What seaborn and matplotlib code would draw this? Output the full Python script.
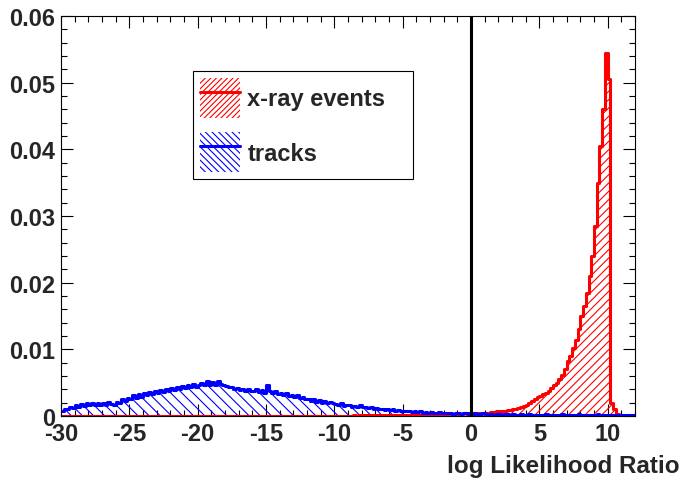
import numpy as np
import pandas as pd
import matplotlib
matplotlib.use("Agg")
import matplotlib.pyplot as plt
import seaborn as sns
from matplotlib.patches import Patch
from matplotlib.lines import Line2D
from matplotlib.legend_handler import HandlerTuple
from matplotlib.ticker import MultipleLocator, FixedLocator

# ---------------- data ----------------
x_min, x_max = -30.0, 12.0          # histogram range (0.2 wide bins)

# x-ray events: normalised counts per bin, bins from -30 to 12
xray_events = [0.0] * 105 + [
    0.0, 0.0, 0.0001, 0.0, 0.0001,                 # -9 .. -8
    0.0001, 0.0001, 0.0001, 0.0001, 0.0001,        # -8 .. -7
    0.0001, 0.0001, 0.0001, 0.0002, 0.0001,        # -7 .. -6
    0.0001, 0.0002, 0.0001, 0.0002, 0.0002,        # -6 .. -5
    0.0002, 0.0002, 0.0002, 0.0002, 0.0002,        # -5 .. -4
    0.0002, 0.0002, 0.0003, 0.0002, 0.0002,        # -4 .. -3
    0.0002, 0.0003, 0.0003, 0.0002, 0.0003,        # -3 .. -2
    0.0003, 0.0002, 0.0003, 0.0003, 0.0003,        # -2 .. -1
    0.0003, 0.0003, 0.0004, 0.0003, 0.0004,        # -1 .. 0
    0.0004, 0.0004, 0.0004, 0.0005, 0.0005,        # 0 .. 1
    0.0005, 0.0005, 0.0006, 0.0006, 0.0007,        # 1 .. 2
    0.0007, 0.0007, 0.0008, 0.0009, 0.0009,        # 2 .. 3
    0.0010, 0.0011, 0.0012, 0.0013, 0.0015,        # 3 .. 4
    0.0017, 0.0019, 0.0022, 0.0025, 0.0028,        # 4 .. 5
    0.0030, 0.0033, 0.0034, 0.0038, 0.0042,        # 5 .. 6
    0.0046, 0.0050, 0.0056, 0.0062, 0.0070,        # 6 .. 7
    0.0082, 0.0090, 0.0102, 0.0114, 0.0130,        # 7 .. 8
    0.0150, 0.0165, 0.0185, 0.0210, 0.0240,        # 8 .. 9
    0.0285, 0.0350, 0.0405, 0.0460, 0.0545,        # 9 .. 10
    0.0505, 0.0020, 0.0010, 0.0003, 0.0,           # 10 .. 11
    0.0, 0.0, 0.0, 0.0, 0.0,                       # 11 .. 12
]

# tracks: normalised counts per bin, bins from -30 to 12
tracks = [
    0.0008, 0.0011, 0.0010, 0.0013, 0.0012,   # -30
    0.0016, 0.0014, 0.0018, 0.0015, 0.0019,   # -29
    0.0016, 0.0019, 0.0017, 0.0020, 0.0016,   # -28
    0.0019, 0.0016, 0.0021, 0.0018, 0.0017,   # -27
    0.0021, 0.0019, 0.0025, 0.0022, 0.0027,   # -26
    0.0025, 0.0031, 0.0027, 0.0033, 0.0029,   # -25
    0.0034, 0.0031, 0.0036, 0.0033, 0.0038,   # -24
    0.0035, 0.0039, 0.0036, 0.0041, 0.0038,   # -23
    0.0042, 0.0039, 0.0044, 0.0040, 0.0045,   # -22
    0.0042, 0.0046, 0.0043, 0.0048, 0.0044,   # -21
    0.0047, 0.0050, 0.0046, 0.0053, 0.0047,   # -20
    0.0051, 0.0046, 0.0052, 0.0048, 0.0047,   # -19
    0.0045, 0.0043, 0.0044, 0.0041, 0.0042,   # -18
    0.0039, 0.0041, 0.0038, 0.0040, 0.0037,   # -17
    0.0038, 0.0040, 0.0036, 0.0039, 0.0035,   # -16
    0.0047, 0.0037, 0.0035, 0.0037, 0.0033,   # -15
    0.0034, 0.0031, 0.0034, 0.0030, 0.0032,   # -14
    0.0029, 0.0031, 0.0027, 0.0029, 0.0026,   # -13
    0.0026, 0.0023, 0.0025, 0.0021, 0.0024,   # -12
    0.0020, 0.0023, 0.0019, 0.0021, 0.0019,   # -11
    0.0018, 0.0016, 0.0019, 0.0015, 0.0017,   # -10
    0.0016, 0.0014, 0.0015, 0.0013, 0.0016,   # -9
    0.0013, 0.0014, 0.0012, 0.0013, 0.0011,   # -8
    0.0012, 0.0010, 0.0011, 0.0009, 0.0011,   # -7
    0.0009, 0.0010, 0.0008, 0.0009, 0.0008,   # -6
    0.0008, 0.0007, 0.0008, 0.0006, 0.0007,   # -5
    0.0006, 0.0007, 0.0005, 0.0006, 0.0005,   # -4
    0.0006, 0.0005, 0.0004, 0.0006, 0.0005,   # -3
    0.0005, 0.0004, 0.0005, 0.0003, 0.0004,   # -2
    0.0004, 0.0003, 0.0004, 0.0004, 0.0003,   # -1
    0.0003, 0.0004, 0.0003, 0.0003, 0.0004,   # 0
    0.0003, 0.0002, 0.0003, 0.0002, 0.0003,   # 1
    0.0003, 0.0002, 0.0003, 0.0003, 0.0002,   # 2
    0.0003, 0.0002, 0.0002, 0.0003, 0.0002,   # 3
    0.0002, 0.0003, 0.0002, 0.0002, 0.0002,   # 4
    0.0002, 0.0002, 0.0003, 0.0002, 0.0002,   # 5
    0.0002, 0.0002, 0.0002, 0.0003, 0.0002,   # 6
    0.0002, 0.0002, 0.0002, 0.0002, 0.0003,   # 7
    0.0002, 0.0002, 0.0002, 0.0002, 0.0002,   # 8
    0.0002, 0.0003, 0.0002, 0.0002, 0.0002,   # 9
    0.0002, 0.0002, 0.0002, 0.0001, 0.0002,   # 10
    0.0001, 0.0001, 0.0001, 0.0001, 0.0001,   # 11
]

series_labels = ["x-ray events", "tracks"]
series_colors = ["#ff0000", "#0000ff"]
x_ticks = [-30, -25, -20, -15, -10, -5, 0, 5, 10]
x_tick_labels = ["-30", "-25", "-20", "-15", "-10", "-5", "0", "5", "10"]
y_ticks = [0.0, 0.01, 0.02, 0.03, 0.04, 0.05, 0.06]
y_tick_labels = ["0", "0.01", "0.02", "0.03", "0.04", "0.05", "0.06"]
x_label = "log Likelihood Ratio"

# ---------------- style ----------------
sns.set_style("ticks")
plt.rcParams["font.family"] = ["Liberation Sans", "DejaVu Sans"]
plt.rcParams["font.weight"] = "bold"
plt.rcParams["axes.unicode_minus"] = False
plt.rcParams["hatch.linewidth"] = 0.8

n_bins = len(tracks)
edges = np.linspace(x_min, x_max, n_bins + 1)
centers = 0.5 * (edges[:-1] + edges[1:])
bin_list = [float(e) for e in edges]
df = pd.DataFrame({
    "llr": np.concatenate([centers, centers]),
    "density": xray_events + tracks,
    "sample": [series_labels[0]] * n_bins + [series_labels[1]] * n_bins,
})

fig = plt.figure(figsize=(6.84, 4.81), dpi=100)
ax = fig.add_axes([61 / 684, 1 - 417 / 481, 574 / 684, 400 / 481])

hatches = ["////", "\\\\\\"]
for name, col, hatch in zip(series_labels, series_colors, hatches):
    sub = df[df["sample"] == name]
    sns.histplot(data=sub, x="llr", weights="density", bins=bin_list,
                 element="step", fill=True, color=col, facecolor="none",
                 edgecolor=col, linewidth=0, hatch=hatch, ax=ax)
    sns.histplot(data=sub, x="llr", weights="density", bins=bin_list,
                 element="step", fill=False, color=col, linewidth=2.2, ax=ax)

ax.axvline(0, color="black", lw=2.2, zorder=5)

ax.set_xlim(x_min, x_max)
ax.set_ylim(0, 0.06)
ax.set_xlabel("")
ax.set_ylabel("")
ax.xaxis.set_major_locator(FixedLocator(x_ticks))
ax.set_xticklabels(x_tick_labels)
ax.xaxis.set_minor_locator(MultipleLocator(1))
ax.yaxis.set_major_locator(FixedLocator(y_ticks))
ax.set_yticklabels(y_tick_labels)
ax.yaxis.set_minor_locator(MultipleLocator(0.002))
ax.tick_params(which="both", direction="in", top=True, right=True,
               width=0.8, color="black")
ax.tick_params(which="major", length=8.5, labelsize=17, pad=4)
ax.tick_params(which="minor", length=4.5)
for sp in ax.spines.values():
    sp.set_visible(True)
    sp.set_color("black")
    sp.set_linewidth(0.8)

# legend
legend_hatches = ["//////", "\\\\\\\\\\"]
handles = []
for col, h in zip(series_colors, legend_hatches):
    handles.append((Patch(facecolor="none", edgecolor=col, hatch=h, linewidth=0),
                    Line2D([0], [0], color=col, lw=2.2)))
leg = ax.legend(handles, series_labels,
                handler_map={tuple: HandlerTuple(ndivide=1, pad=0)},
                loc="upper left", bbox_to_anchor=(0.23, 0.5925, 0.383, 0.27),
                mode="expand", borderaxespad=0, handlelength=1.7,
                handleheight=2.23, handletextpad=0.3, labelspacing=0.6,
                borderpad=0.3, fancybox=False, framealpha=1,
                edgecolor="black", prop={"size": 17, "weight": "bold"})
leg.get_frame().set_linewidth(0.8)
leg.set_zorder(10)

fig.text(680 / 684, 1 - 467 / 481, x_label, ha="right", va="center",
         fontsize=17.5, fontweight="bold")

fig.savefig("out.png", dpi=100)
